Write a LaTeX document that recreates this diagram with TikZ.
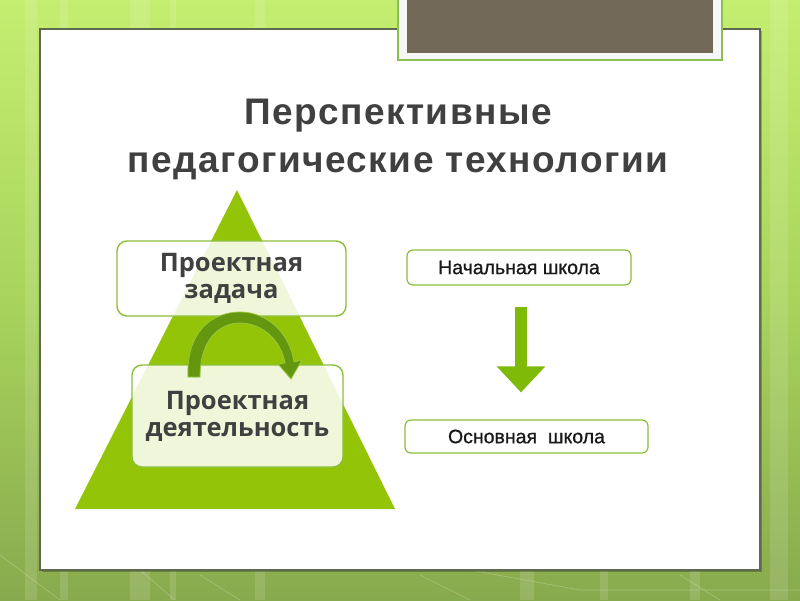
\documentclass[tikz,border=0pt]{standalone}
\usepackage{fontspec}
\setmainfont{Liberation Sans}
\newfontfamily\boxfont{Open Sans}
\newfontfamily\titlefont[LetterSpace=4]{Liberation Sans}
\newfontfamily\schoolfont[FakeBold=0.8]{Liberation Sans}
\usetikzlibrary{arrows.meta}
\definecolor{bgtop}{RGB}{196,238,112}
\definecolor{bgmid}{RGB}{168,212,92}
\definecolor{bgbot}{RGB}{136,170,78}
\definecolor{panelline}{RGB}{95,105,80}
\definecolor{brownbox}{RGB}{113,104,88}
\definecolor{frameline}{RGB}{140,190,80}
\definecolor{trigreen}{RGB}{148,196,8}
\definecolor{boxline}{RGB}{140,190,60}
\definecolor{txtgray}{RGB}{64,64,64}
\definecolor{arrowdark}{RGB}{100,150,16}
\definecolor{arrowlight}{RGB}{150,200,60}
\definecolor{downgreen}{RGB}{128,186,8}
\tikzset{
  pyrbox/.style={draw=boxline, line width=1.4pt, rounded corners=10pt, fill=white, fill opacity=0.85, text opacity=1, text=txtgray, font=\boxfont\bfseries\fontsize{25.5}{28}\selectfont, align=center, inner sep=0pt},
  schoolbox/.style={draw=boxline, line width=1.2pt, rounded corners=6pt, fill=white, text=black!90, font=\schoolfont\fontsize{19.5}{21}\selectfont, inner sep=0pt},
  titletext/.style={text=txtgray, font=\titlefont\bfseries\fontsize{37}{45}\selectfont, anchor=base}
}
\begin{document}
\begin{tikzpicture}[x=1pt,y=-1pt]
\useasboundingbox (0,0) rectangle (800,600);
% background
\shade[top color=bgtop, bottom color=bgbot, middle color=bgmid] (0,0) rectangle (800,600);
\foreach \xx/\ww in {25/12,60/8,130/20,170/6,255/10,520/14,600/8,690/10,770/18}
  \fill[white, opacity=0.12] (\xx,0) rectangle (\xx+\ww,600);
\draw[white, opacity=0.25, line width=0.6pt] (0,555) -- (60,600);
\draw[white, opacity=0.25, line width=0.6pt] (140,570) -- (175,600);
\draw[white, opacity=0.25, line width=0.6pt] (200,575) -- (240,600);
\draw[white, opacity=0.25, line width=0.6pt] (420,575) -- (470,600);
\draw[white, opacity=0.25, line width=0.6pt] (470,570) -- (580,590) -- (800,590);
\draw[white, opacity=0.25, line width=0.6pt] (680,575) -- (720,600);
% panel
\fill[black, opacity=0.25] (42,31) rectangle (762,572);
\filldraw[fill=white, draw=panelline, line width=1.2pt] (40,29) rectangle (760,570);
% top brown box
\filldraw[fill=white!94!gray, draw=frameline, line width=1.2pt] (398,-2) rectangle (722,60);
\fill[brownbox] (407,-2) rectangle (713,53);
% title
\node[titletext] (title1) at (398,124) {Перспективные};
\node[titletext] (title2) at (398,172) {педагогические технологии};
% pyramid
\fill[trigreen] (237,190) -- (395,509) -- (75,509) -- cycle;
\node[pyrbox, minimum width=229pt, minimum height=75pt] (task) at (231.5,278.5) {\rule{0pt}{6pt}Проектная\\[-1pt]задача};
\node[pyrbox, minimum width=211pt, minimum height=102pt] (act) at (237.5,416) {\rule{0pt}{6pt}Проектная\\[-1pt]деятельность};
% curved arrow
\filldraw[fill=arrowdark, draw=arrowlight, line width=0.8pt]
  (188,377) .. controls (186,332) and (212,312) .. (240,312)
  .. controls (268,312) and (290,334) .. (294,362)
  -- (302,360) -- (291,379) -- (278,364) -- (285,363)
  .. controls (281,340) and (262,323) .. (240,323)
  .. controls (219,323) and (200,340) .. (200,377) -- cycle;
% right side
\node[schoolbox, minimum width=224pt, minimum height=35pt] (prim) at (519,267.5) {Начальная школа};
\node[schoolbox, minimum width=243pt, minimum height=33pt] (basic) at (526.5,436.5) {Основная\ \ школа};
\draw[downgreen, line width=12pt, -{Triangle[width=47pt,length=26pt]}, shorten <=21pt, shorten >=27pt] (prim.south -| 521,0) -- (basic.north -| 521,0);
\end{tikzpicture}
\end{document}
